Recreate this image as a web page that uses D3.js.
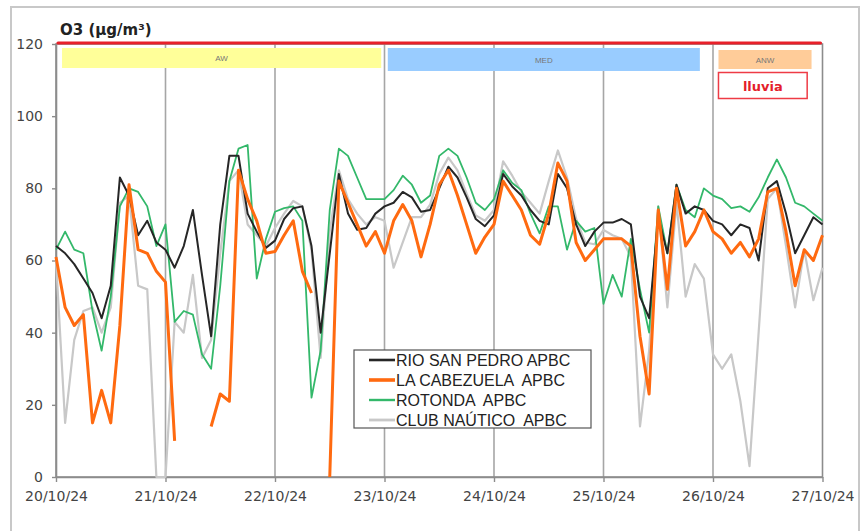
<!DOCTYPE html>
<html>
<head>
<meta charset="utf-8">
<script src="https://cdn.jsdelivr.net/npm/d3@7"></script>
<style>
  body { margin: 0; background: #fff; }
  svg { display: block; }
  .tick text { font-family: "DejaVu Sans", Verdana, sans-serif; font-size: 14px; fill: #444; }
</style>
</head>
<body>
<svg id="chart" width="861" height="531"></svg>
<script>
// day labels on the x axis (one every 24 h)
var dayLabels = ["20/10/24","21/10/24","22/10/24","23/10/24","24/10/24","25/10/24","26/10/24","27/10/24"];
var yTicks = [0, 20, 40, 60, 80, 100, 120];
var stepHours = 2;       // one value every 2 hours from 20/10/24 00:00
var limitValue = 120;    // red line at the top

// O3 (µg/m³), 2-hourly
var rioSanPedro = [64,62,59,55,51,44,53,83,78,67,71,65,
  63,58,64,74,56,39,70,89,89,73,68,63.5,
  65.5,71.5,74.5,75,64,40,62,84,73,68.5,69,73,
  75,76,79,77.5,73.5,74,80,86,83,77.5,71.5,69.5,
  72.5,84,80.5,78,74,71,70,84,80,70,64,68,
  70.5,70.5,71.5,70,50,44,72,62,81,73,75,74,
  71,70,67,70,69,60,80,82,73,62,67,72,
  70];
var laCabezuela = [61,47,42,45,15,24,15,42,81,63,62,57,
  54,10,null,null,null,14,23,21,85,77,71,62,
  62.5,67,71,57,51,null,0,82,76,70,64,68,
  62,71,75.5,71,61,70,81,85,78,70,62,66.5,
  70,82,78,74,67,64.5,73,87,82,65,60,63,
  66,66,66,64,39,23,74,52,80,64,68,74,
  68,66,62,65,61,66,79,80,68,53,63,60,
  67];
var rotonda = [63,68,63,62,46,35,50,75,80,79,75,64,
  70,43,46,45,34,30,53,82,91,92,55,66,
  73.5,74.5,75,71,22,35,74,91,89,83,77,77,
  77,79.5,83.5,81,76,78,89,91,89,83,76,74,
  77,85,81.5,79.5,73,67.5,75,75,63,71,68,69,
  48,56,50,66,52,40,75,62,81,74,72,80,
  78,77,74.5,75,73.5,77.5,83,88,83,76,75,73,
  71];
var clubNautico = [60,15,38,46,47,40,47,76,78,53,52,0,
  0,43,40,56,33,38,62,82,85,70,67,64,
  69,73,76.5,75,63,33,68,85,77,73,70,72,
  71,58,65,72,72,75.5,84,88.5,85,78.5,72.5,71,
  74,87.5,83.5,79,76,73,82,90.5,83,71.5,65,64.5,
  68.5,67,66,61,14,35,75,47,76,50,59,55,
  34,30,34,21,3,40,77,80,64,47,63,49,
  58];

var seriesNames = ["RIO SAN PEDRO APBC", "LA CABEZUELA  APBC", "ROTONDA  APBC", "CLUB NAÚTICO  APBC"];
var seriesValues = [rioSanPedro, laCabezuela, rotonda, clubNautico];
var seriesColors = ["#262626", "#ff6a10", "#33b86a", "#c8c8c8"];
var seriesWidths = [2, 3, 1.8, 2.2];
var drawOrder = [3, 2, 0, 1];

// sectors shown as coloured bands at the top (in days)
var bandLabels = ["AW", "MED", "ANW"];
var bandFrom = [0.055, 3.03, 6.05];
var bandTo = [2.97, 5.88, 6.9];
var bandColors = ["#ffff99", "#99ccff", "#ffcc99"];

var svg = d3.select("#chart");

// outer frame
svg.append("rect")
   .attr("x", 11).attr("y", 7)
   .attr("width", 848).attr("height", 540)
   .attr("fill", "none")
   .attr("stroke", "#c8c8c8")
   .attr("stroke-width", 2);

var x = d3.scaleLinear().domain([0, 168]).range([56, 822.5]);
var y = d3.scaleLinear().domain([0, 120]).range([477, 44]);

// vertical day gridlines
svg.append("g")
   .selectAll("line")
   .data(d3.range(1, dayLabels.length - 1))
   .enter()
   .append("line")
   .attr("x1", function(d){ return x(d*24) })
   .attr("x2", function(d){ return x(d*24) })
   .attr("y1", y(120))
   .attr("y2", y(0))
   .attr("stroke", "#a6a6a6")
   .attr("stroke-width", 1.6);

// plot frame
svg.append("rect")
   .attr("x", x(0)).attr("y", y(120))
   .attr("width", x(168) - x(0)).attr("height", y(0) - y(120))
   .attr("fill", "none")
   .attr("stroke", "#8c8c8c")
   .attr("stroke-width", 1.6);

// axes
var yAxis = svg.append("g")
   .attr("transform", "translate(" + x(0) + ",0)")
   .call(d3.axisLeft(y).tickValues(yTicks).tickSizeInner(4).tickSizeOuter(0).tickPadding(9));

var xAxis = svg.append("g")
   .attr("transform", "translate(0," + y(0) + ")")
   .call(d3.axisBottom(x)
     .tickValues(d3.range(0, 169, 24))
     .tickFormat(function(d, i){ return dayLabels[i] })
     .tickSizeInner(5).tickSizeOuter(0).tickPadding(9));

svg.selectAll(".domain").attr("stroke", "#8c8c8c").attr("stroke-width", 1.6);
svg.selectAll(".tick line").attr("stroke", "#8c8c8c").attr("stroke-width", 1.4);

// limit line at 120
svg.append("line")
   .attr("x1", x(0) + 2).attr("x2", x(168) - 2)
   .attr("y1", y(limitValue) - 1).attr("y2", y(limitValue) - 1)
   .attr("stroke", "#e8202a")
   .attr("stroke-width", 3.2)
   .attr("stroke-linecap", "round");

// sector bands
var bands = svg.append("g");
bandLabels.forEach(function(lbl, i){
  var bx = x(bandFrom[i]*24), bw = x(bandTo[i]*24) - bx;
  var by = i == 2 ? 50 : 48;
  var bh = i == 0 ? 20 : (i == 1 ? 23 : 19);
  bands.append("rect")
       .attr("x", bx).attr("y", by)
       .attr("width", bw).attr("height", bh)
       .attr("fill", bandColors[i]);
  bands.append("text")
       .attr("x", bx + bw/2).attr("y", by + bh/2 + 3)
       .attr("text-anchor", "middle")
       .attr("font-family", "Liberation Sans, Arial, sans-serif")
       .attr("font-size", "8px")
       .attr("fill", "#777")
       .text(lbl);
});

// "lluvia" box
svg.append("rect")
   .attr("x", x(6.05*24)).attr("y", 72.5)
   .attr("width", x(6.86*24) - x(6.05*24)).attr("height", 26)
   .attr("fill", "#fff")
   .attr("stroke", "#ee3b45")
   .attr("stroke-width", 1.5);
svg.append("text")
   .attr("x", (x(6.05*24) + x(6.86*24))/2).attr("y", 90.5)
   .attr("text-anchor", "middle")
   .attr("font-family", "DejaVu Sans, Verdana, sans-serif")
   .attr("font-weight", "bold")
   .attr("font-size", "13px")
   .attr("fill", "#e41e2b")
   .text("lluvia");

// series
var line = d3.line()
   .defined(function(d){ return d != null })
   .x(function(d, i){ return x(i*stepHours) })
   .y(function(d){ return y(d) });

var lines = svg.append("g");
drawOrder.forEach(function(k){
  lines.append("path")
       .datum(seriesValues[k])
       .attr("d", line)
       .attr("fill", "none")
       .attr("stroke", seriesColors[k])
       .attr("stroke-width", seriesWidths[k])
       .attr("stroke-linejoin", "round");
});

// title
svg.append("text")
   .attr("x", 60).attr("y", 35)
   .attr("font-family", "DejaVu Sans, Verdana, sans-serif")
   .attr("font-weight", "bold")
   .attr("font-size", "15px")
   .attr("fill", "#222")
   .text("O3 (µg/m³)");

// legend
var legend = svg.append("g").attr("transform", "translate(354,350)");
legend.append("rect")
      .attr("width", 237).attr("height", 78)
      .attr("fill", "#fff")
      .attr("stroke", "#555")
      .attr("stroke-width", 1.2);
var item = legend.selectAll(".lg")
      .data(seriesNames).enter()
      .append("g")
      .attr("transform", function(d, i){ return "translate(0," + (10 + i*20) + ")" });
item.append("line")
    .attr("x1", 15).attr("x2", 41)
    .attr("stroke", function(d, i){ return seriesColors[i] })
    .attr("stroke-width", function(d, i){ return seriesWidths[i] + 0.6 });
item.append("text")
    .attr("x", 42).attr("y", 5.5)
    .attr("font-family", "Liberation Sans, Arial, sans-serif")
    .attr("font-size", "16px")
    .attr("fill", "#222")
    .style("white-space", "pre")
    .text(function(d){ return d });
</script>
</body>
</html>
